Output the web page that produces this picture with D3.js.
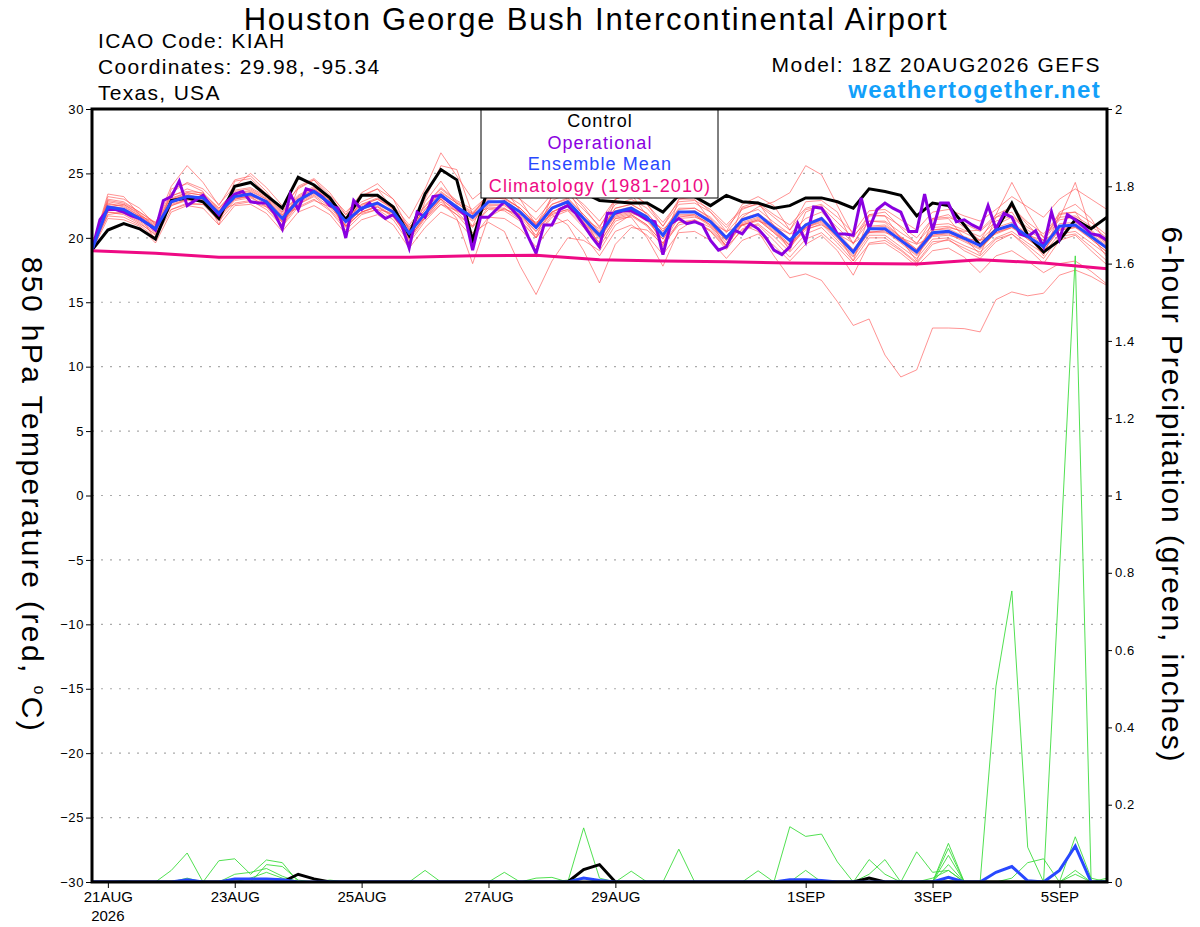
<!DOCTYPE html>
<html>
<head>
<meta charset="utf-8">
<script src="https://cdn.jsdelivr.net/npm/d3@7"></script>
<style>
  body { margin: 0; background: #fff; }
  svg { display: block; font-family: "Liberation Sans", Arial, Helvetica, sans-serif; }
</style>
</head>
<body>
<div id="chart"></div>
<script>
// forecast starts 18Z 20AUG2026, 6-hourly steps (operational is 3-hourly)
const startTime = Date.UTC(2026, 7, 20, 18);
const sixHours = 6 * 3600 * 1000;

const tempTicks = [30, 25, 20, 15, 10, 5, 0, -5, -10, -15, -20, -25, -30];
const precipTicks = [0, 0.2, 0.4, 0.6, 0.8, 1, 1.2, 1.4, 1.6, 1.8, 2];
const dateTickSteps = [1, 9, 17, 25, 33, 45, 53, 61];   // 00Z of 21,23,25,27,29AUG 1,3,5SEP

const controlTemp = [19.05,
  20.6, 21.1, 20.7, 19.9,  22.9, 23.1, 22.8, 21.5,  24.0, 24.3, 23.3, 22.3,  24.7, 24.1, 23.1, 21.4,
  23.3, 23.3, 22.4, 20.2,  23.4, 25.3, 24.5, 19.8,  24.0, 24.5, 23.8, 23.6,  24.2, 23.8, 23.5, 22.9,
  22.8, 22.7, 22.7, 22.0,  23.3, 23.2, 22.5, 23.3,  22.8, 22.7, 22.3, 22.5,  23.1, 23.1, 22.8, 22.3,
  23.8, 23.6, 23.3, 21.7,  22.7, 22.5, 21.0, 19.4,  20.6, 22.7, 20.2, 18.9,  19.8, 21.4, 20.7, 21.6];

const meanTemp = [19.05,
  22.4, 22.2, 21.5, 20.7,  22.8, 23.2, 23.1, 21.9,  23.2, 23.4, 22.8, 21.5,  22.9, 23.6, 22.7, 21.25,
  22.3, 22.7, 22.0, 20.35, 21.9, 23.3, 22.4, 21.6,  22.8, 22.8, 22.0, 20.8,  22.3, 22.8, 21.5, 20.2,
  22.0, 22.3, 21.6, 20.2,  22.0, 22.0, 21.25, 20.0, 21.4, 21.8, 20.8, 19.8,  21.0, 21.5, 20.2, 18.9,
  20.7, 20.7, 19.8, 18.9,  20.4, 20.5, 19.95, 19.4, 20.6, 21.0, 20.1, 19.3,  20.9, 21.0, 20.1, 19.2];

// operational run, 3-hourly
const operationalTemp = [19.05,
  21.4, 22.2, 22.2, 22.0, 21.7, 21.5, 21.1, 20.6,  22.9, 23.2, 24.4, 22.5, 22.9, 23.3, 22.5, 21.8,
  22.8, 23.4, 23.6, 22.8, 22.7, 22.7, 21.9, 20.7,  23.4, 22.2, 23.8, 23.6, 23.2, 22.5, 22.3, 20.0,
  22.9, 22.2, 22.7, 22.0, 21.5, 21.8, 21.1, 19.2,  22.0, 21.6, 23.2, 23.3, 22.8, 22.3, 21.8, 19.05,
  21.6, 21.6, 22.2, 22.8, 22.2, 21.5, 20.1, 18.8,  21.0, 21.0, 22.2, 22.5, 21.9, 21.0, 20.1, 19.3,
  21.9, 21.9, 22.1, 22.1, 21.8, 21.4, 21.25, 18.7, 21.1, 21.5, 21.1, 21.25, 21.0, 19.8, 19.05, 19.3,
  20.6, 20.3, 21.1, 20.7, 20.0, 19.05, 18.7, 19.3, 21.1, 19.7, 22.4, 22.3, 21.4, 20.3, 20.3, 20.2,
  23.1, 20.7, 22.2, 22.7, 22.3, 22.0, 20.5, 20.5, 23.4, 20.6, 22.7, 22.7, 21.25, 21.4, 21.0, 20.7,
  22.5, 20.7, 21.9, 21.6, 20.3, 20.1, 20.55, 19.3, 22.0, 19.9, 21.8, 21.4, 20.9, 20.3, 20.2, 19.8];

// climatology, one value per day (every 4th step)
const climoTemp = [19.0, 18.8, 18.5, 18.5, 18.5, 18.5, 18.6, 18.65, 18.3,
  18.2, 18.15, 18.05, 18.0, 17.97, 18.3, 18.05, 17.6];

const memberTemps = [
  [19.1, 23.2,23.0,22.3,21.0, 24.0,25.6,24.3,22.5, 24.5,24.8,23.6,22.0, 24.0,24.6,23.5,21.8,
   23.5,24.2,23.0,20.6, 23.0,25.6,25.3,21.8, 23.5,24.0,23.0,21.0, 23.2,23.8,22.4,20.8,
   23.0,23.5,22.6,20.9, 23.0,23.2,22.0,20.5, 22.6,23.2,22.5,20.6, 22.8,22.9,22.0,19.5,
   21.8,22.0,20.8,19.5, 21.5,21.8,20.8,19.8, 21.8,22.4,21.0,19.8, 22.0,22.6,21.5,19.5],
  [19.0, 21.5,21.4,20.9,19.6, 22.0,22.5,22.3,21.0, 22.5,22.6,21.9,20.5, 22.0,22.5,21.8,20.3,
   21.4,21.8,21.0,19.2, 20.8,22.0,21.4,20.0, 21.6,21.5,20.7,19.3, 21.0,21.4,20.2,18.6,
   20.5,21.0,20.2,18.7, 20.4,20.5,19.8,18.4, 19.8,20.3,19.4,18.2, 19.5,20.2,19.0,17.1,
   19.6,19.8,19.0,18.0, 19.5,19.9,19.0,18.4, 19.7,20.3,19.2,18.0, 19.8,20.2,19.0,17.9],
  [19.2, 22.6,22.5,21.7,20.8, 23.0,23.5,23.3,22.2, 23.4,23.6,23.0,21.8, 23.0,23.8,22.9,21.5,
   22.5,23.0,22.2,20.6, 22.2,23.6,22.7,21.8, 23.0,23.1,22.3,21.0, 22.6,23.0,21.8,20.4,
   22.3,22.6,21.9,20.5, 22.2,22.3,21.5,20.1, 21.0,20.5,18.6,16.9, 17.2,16.7,15.05,13.2,
   13.7,10.9,9.2,9.75, 13.0,13.0,12.95,12.7, 15.2,15.8,15.5,15.7, 17.1,17.5,17.0,16.3],
  [19.1, 22.0,21.9,21.2,20.2, 22.6,23.0,22.8,21.6, 23.0,23.2,22.4,21.0, 22.6,23.2,22.2,20.8,
   22.0,22.4,21.6,20.0, 21.6,23.0,22.0,20.8, 22.4,22.3,21.4,20.0, 21.8,22.2,21.0,19.6,
   21.5,21.8,21.0,19.6, 21.2,21.4,20.5,19.3, 20.6,21.0,19.8,18.5, 19.9,20.4,19.3,18.0,
   19.5,19.6,18.8,17.8, 19.0,19.2,18.5,17.3, 18.6,19.0,18.2,17.3, 18.0,18.2,17.4,16.4],
  [19.0, 22.3,22.0,21.3,20.4, 22.9,23.4,23.0,21.7, 23.2,23.5,22.7,21.3, 22.8,23.5,22.6,20.9,
   22.0,22.5,21.7,19.8, 21.5,22.8,21.8,20.4, 21.2,20.5,17.8,15.6, 18.2,20.0,19.8,19.0,
   21.0,21.8,21.0,19.6, 21.6,21.8,21.0,19.8, 21.2,21.6,20.6,19.5, 20.8,21.2,20.0,18.8,
   20.4,20.6,19.7,18.7, 20.2,20.4,19.8,19.2, 20.4,20.8,19.9,19.0, 20.6,20.8,19.9,18.9],
  [19.2, 22.8,22.6,21.8,21.0, 23.2,23.8,23.4,22.3, 23.6,23.8,23.1,21.9, 23.2,23.9,23.0,21.6,
   22.6,23.1,22.3,20.8, 22.4,23.8,22.8,22.0, 23.2,23.0,22.3,21.0, 21.8,21.0,19.0,16.5,
   19.5,20.8,20.6,19.5, 21.0,21.3,20.6,19.4, 21.0,21.4,20.4,19.2, 20.8,21.4,20.2,19.0,
   20.9,21.0,20.1,19.1, 20.8,20.9,20.4,19.8, 21.0,21.6,20.6,19.8, 21.4,21.6,20.6,19.6],
  [19.3, 23.0,22.8,22.0,21.2, 23.5,24.3,23.8,22.6, 24.0,25.0,23.9,22.5, 23.8,24.5,23.3,22.0,
   23.2,23.8,23.0,21.5, 23.8,26.6,24.8,23.0, 24.0,23.8,23.0,22.0, 23.4,23.6,22.6,21.3,
   23.0,23.4,22.6,21.2, 22.8,22.9,22.2,21.0, 22.3,22.6,21.6,20.6, 22.2,22.4,21.2,20.0,
   21.8,21.7,20.9,20.0, 21.5,21.6,21.1,20.5, 21.6,22.4,21.2,20.3, 21.8,22.0,21.2,20.2],
  [19.1, 22.2,22.1,21.4,20.6, 22.5,23.0,23.0,21.8, 23.0,23.3,22.6,21.3, 22.7,23.4,22.6,21.0,
   22.2,22.6,21.9,20.3, 21.8,23.2,22.3,21.4, 22.6,22.6,21.8,20.5, 22.0,22.6,21.3,20.0,
   21.8,22.1,21.4,19.9, 21.8,21.8,21.0,19.8, 21.6,22.4,22.8,23.5, 25.6,24.9,22.5,20.2,
   21.3,21.2,20.0,19.0, 20.6,20.8,20.5,20.6, 21.8,24.3,22.0,20.0, 21.5,24.3,20.5,19.5],
  [19.0, 22.7,22.4,21.7,20.9, 23.1,23.5,23.3,22.1, 23.4,23.7,23.0,21.7, 23.1,23.8,22.9,21.5,
   22.6,23.0,22.3,20.7, 22.2,23.5,22.7,21.9, 23.1,23.1,22.3,21.1, 22.6,23.1,21.8,20.5,
   22.3,22.6,21.9,20.5, 22.3,22.3,21.6,20.4, 21.8,22.2,21.2,20.3, 21.5,22.0,20.8,19.6,
   21.3,21.3,20.4,19.6, 21.0,21.1,20.6,20.1, 21.3,21.7,20.8,20.1, 21.6,21.7,20.9,20.0],
  [19.1, 22.0,21.8,21.1,20.3, 22.5,22.9,22.8,21.5, 22.9,23.1,22.5,21.2, 22.6,23.3,22.4,20.9,
   22.0,22.4,21.7,20.0, 21.6,23.0,22.1,21.3, 22.5,22.5,21.7,20.5, 22.0,22.5,21.2,19.9,
   21.7,22.0,21.3,19.9, 21.7,21.7,20.9,19.6, 21.0,21.4,20.4,19.4, 20.6,21.1,19.8,18.5,
   20.2,20.2,19.3,18.4, 19.9,20.0,19.4,18.9, 20.0,20.5,19.6,18.8, 20.3,20.5,19.6,18.7],
  [19.2, 23.4,23.2,21.8,19.8, 23.8,24.2,23.6,21.0, 24.4,24.6,23.4,20.6, 23.9,24.5,23.0,20.4,
   23.3,23.8,22.2,19.6, 22.8,24.4,22.6,20.9, 23.8,23.8,22.1,20.0, 23.3,23.8,21.6,19.4,
   23.0,23.4,21.7,19.4, 23.0,23.0,21.3,19.2, 22.4,22.8,20.9,19.0, 22.0,22.5,20.3,18.2,
   21.7,21.7,19.9,18.2, 21.4,21.5,20.0,18.7, 21.6,22.0,20.2,18.6, 21.9,22.0,20.2,18.5],
  [19.0, 21.8,22.0,21.7,21.2, 22.2,22.6,22.6,22.1, 22.6,22.8,22.4,21.8, 22.3,22.9,22.4,21.6,
   21.9,22.2,21.9,20.9, 21.5,22.6,22.1,21.9, 22.3,22.2,21.8,21.2, 21.9,22.2,21.5,20.7,
   21.6,21.9,21.5,20.7, 21.5,21.6,21.2,20.5, 21.0,21.3,20.9,20.3, 20.7,21.0,20.3,19.6,
   20.4,20.4,20.0,19.5, 20.1,20.2,19.9,19.8, 20.3,20.8,20.2,19.8, 20.6,20.8,20.3,19.8],
  [19.1, 22.5,22.3,21.6,20.5, 23.0,23.3,23.0,21.6, 23.3,23.5,22.7,21.2, 22.9,23.6,22.6,20.9,
   22.4,22.8,21.9,19.9, 21.8,23.0,21.5,18.0, 21.6,22.3,21.6,20.2, 22.0,22.6,21.2,19.6,
   21.5,21.6,20.0,17.8, 20.6,21.4,20.8,19.4, 21.1,21.5,20.5,19.4, 20.8,21.3,20.0,18.6,
   20.5,20.5,19.6,18.6, 20.2,20.3,19.7,19.1, 20.4,20.9,19.9,19.0, 20.7,20.9,19.9,18.9],
  [19.2, 22.9,22.7,22.0,21.1, 23.3,23.6,23.5,22.3, 23.7,23.9,23.2,22.0, 23.3,24.0,23.1,21.8,
   22.8,23.3,22.5,21.0, 22.5,23.9,22.9,22.2, 23.3,23.4,22.6,21.4, 22.9,23.4,22.2,20.9,
   22.6,23.0,22.3,20.9, 22.6,22.7,22.0,20.8, 22.2,22.7,21.8,21.0, 22.3,22.6,21.6,20.4,
   22.1,22.2,21.4,20.6, 22.0,22.2,21.7,21.3, 22.2,23.2,22.4,21.6, 23.0,23.8,23.0,22.2],
  [19.0, 22.4,22.6,21.9,20.8, 22.7,23.1,23.2,22.0, 23.1,23.2,22.9,21.6, 23.0,23.5,22.8,21.3,
   22.3,22.6,22.1,20.4, 21.9,23.1,22.4,21.5, 22.7,22.9,22.1,20.9, 22.4,22.9,21.6,20.3,
   22.1,22.4,21.7,20.3, 22.0,22.1,21.4,20.1, 21.5,21.9,21.0,19.9, 21.1,21.6,20.4,19.1,
   20.8,20.9,20.0,19.1, 20.6,20.7,20.1,19.6, 20.8,21.2,20.3,19.5, 21.1,21.2,20.3,19.4],
  [19.3, 21.7,21.6,21.0,20.0, 22.2,22.7,22.6,21.3, 22.7,22.9,22.2,20.9, 22.4,23.0,22.1,20.6,
   21.8,22.2,21.4,19.6, 21.3,22.6,21.8,20.9, 22.2,22.1,21.3,20.0, 21.6,22.1,20.8,19.3,
   21.3,21.7,20.9,19.3, 21.2,21.3,20.5,19.1, 20.7,21.1,20.1,18.9, 20.3,20.8,19.6,18.2,
   20.0,20.0,19.1,18.1, 19.7,19.8,19.2,18.6, 19.9,20.3,19.4,18.4, 20.1,20.3,19.3,18.2]
];

// 6-hour precipitation (inches)
const controlPrecip = [0,
  0,0,0,0, 0,0,0,0, 0,0,0,0, 0.02,0.008,0,0, 0,0,0,0, 0,0,0,0, 0,0,0,0, 0,0,0.032,0.045,
  0,0,0,0, 0,0,0,0, 0,0,0,0, 0,0,0,0, 0.01,0,0,0, 0,0,0,0, 0,0,0,0, 0,0,0,0];

const meanPrecip = [0,
  0,0,0,0, 0,0.006,0,0, 0.008,0.008,0.008,0.006, 0,0,0,0, 0,0,0,0, 0,0,0,0, 0,0,0,0, 0,0,0.01,0.004,
  0,0,0,0, 0,0,0,0, 0,0,0,0.006, 0.006,0.004,0,0, 0,0,0,0, 0,0.012,0,0, 0.025,0.04,0.003,0, 0.03,0.093,0,0];

const memberPrecips = [
  [0, 0,0,0,0, 0.03,0.075,0,0, 0,0,0,0, 0,0,0,0, 0,0,0,0, 0.03,0,0,0, 0,0,0,0, 0,0,0,0,
   0,0,0,0, 0.085,0,0,0, 0,0,0,0.143, 0.118,0.124,0.052,0, 0,0,0,0, 0,0.1,0,0, 0.507,0.753,0.09,0, 0,0,0,0],
  [0, 0,0,0,0, 0,0,0,0.055, 0.06,0.02,0.057,0.05, 0,0,0,0, 0,0,0,0, 0,0,0,0, 0,0,0,0, 0,0,0.14,0.01,
   0,0,0,0, 0,0,0,0, 0,0,0,0, 0,0,0,0, 0,0,0,0, 0,0.087,0,0, 0,0,0,0, 0.8,1.62,0,0],
  [0, 0,0,0,0, 0,0,0,0, 0.02,0.025,0.035,0.015, 0,0,0,0, 0,0,0,0, 0,0,0,0, 0,0.025,0,0, 0,0,0,0,
   0,0,0,0, 0,0,0,0, 0,0,0,0, 0.03,0,0,0, 0.058,0.02,0,0, 0,0.069,0,0, 0,0.01,0.05,0.06, 0,0,0,0],
  [0, 0,0,0,0, 0,0,0,0, 0,0,0.045,0.04, 0.005,0,0,0, 0,0,0,0, 0,0,0,0, 0,0,0,0.01, 0.012,0,0,0,
   0,0.028,0,0, 0,0,0,0, 0,0.029,0,0, 0,0,0,0, 0,0,0,0.078, 0.025,0.03,0,0, 0,0,0,0, 0,0.117,0.01,0],
  [0, 0,0,0,0, 0,0,0,0, 0,0.01,0.025,0.01, 0,0,0.005,0, 0,0,0,0, 0,0,0,0, 0,0,0,0, 0,0.005,0.01,0,
   0,0,0,0, 0,0,0,0, 0,0,0,0, 0,0,0,0, 0.02,0.058,0,0, 0,0.045,0,0, 0,0,0,0, 0,0.02,0,0.01],
  [0, 0,0.003,0,0, 0,0.01,0,0, 0,0,0,0, 0,0,0,0, 0,0,0,0, 0,0,0,0, 0,0,0,0, 0,0,0,0,
   0,0,0,0, 0,0,0,0, 0,0,0,0.005, 0,0,0,0, 0,0,0,0, 0.01,0.03,0,0, 0,0,0,0, 0,0.03,0,0.005]
];

const W = 1200, H = 927;
const plot = { left: 92, right: 1107, top: 109, bottom: 882 };

const svg = d3.select("#chart")
  .append("svg")
  .attr("width", W)
  .attr("height", H);

const stepDate = (i, per) => new Date(startTime + i * per);

const x = d3.scaleUtc()
  .domain([stepDate(0, sixHours), stepDate(64, sixHours)])
  .range([plot.left, plot.right]);
const yTemp = d3.scaleLinear().domain([-30, 30]).range([plot.bottom, plot.top]);
const yPrecip = d3.scaleLinear().domain([0, 2]).range([plot.bottom, plot.top]);

svg.append("clipPath").attr("id", "plot-clip")
  .append("rect")
  .attr("x", plot.left).attr("y", plot.top)
  .attr("width", plot.right - plot.left).attr("height", plot.bottom - plot.top);

// dotted grid lines
svg.append("g")
  .selectAll("line")
  .data(tempTicks.filter(d => d > -30 && d < 30))
  .enter()
  .append("line")
  .attr("x1", plot.left).attr("x2", plot.right)
  .attr("y1", d => yTemp(d)).attr("y2", d => yTemp(d))
  .attr("stroke", "#aaa")
  .attr("stroke-width", 1.2)
  .attr("stroke-dasharray", "2,7");

const g = svg.append("g").attr("clip-path", "url(#plot-clip)");

function lineFor(yScale, per) {
  return d3.line()
    .x((d, i) => x(stepDate(i, per)))
    .y(d => yScale(d));
}
const tempLine = lineFor(yTemp, sixHours);
const opLine = lineFor(yTemp, sixHours / 2);
const climoLine = lineFor(yTemp, sixHours * 4);
const precipLine = lineFor(yPrecip, sixHours);

// ensemble members
g.append("g")
  .selectAll("path")
  .data(memberTemps)
  .enter()
  .append("path")
  .attr("d", tempLine)
  .attr("fill", "none")
  .attr("stroke", "#ff4a4a")
  .attr("stroke-opacity", 0.75)
  .attr("stroke-width", 0.8);

g.append("g")
  .selectAll("path")
  .data(memberPrecips)
  .enter()
  .append("path")
  .attr("d", precipLine)
  .attr("fill", "none")
  .attr("stroke", "#3ddc3d")
  .attr("stroke-width", 0.9);

function thick(data, gen, color, width) {
  g.append("path")
    .datum(data)
    .attr("d", gen)
    .attr("fill", "none")
    .attr("stroke", color)
    .attr("stroke-width", width)
    .attr("stroke-linejoin", "miter");
}
thick(controlTemp, tempLine, "#000", 3);
thick(operationalTemp, opLine, "#8a00e0", 3);
thick(meanTemp, tempLine, "#2848ff", 3);
thick(climoTemp, climoLine, "#ee0a84", 3);
thick(controlPrecip, precipLine, "#000", 3);
thick(meanPrecip, precipLine, "#2848ff", 3);

// legend box
const legend = svg.append("g");
legend.append("rect")
  .attr("x", 481).attr("y", plot.top)
  .attr("width", 237).attr("height", 89)
  .attr("fill", "#fff").attr("stroke", "#000").attr("stroke-width", 1);
const legendItems = [
  ["Control", "#000"],
  ["Operational", "#8a00e0"],
  ["Ensemble Mean", "#2848ff"],
  ["Climatology (1981-2010)", "#ee0a84"]
];
legend.selectAll("text")
  .data(legendItems)
  .enter()
  .append("text")
  .attr("x", 600)
  .attr("y", (d, i) => 127 + i * 21.7)
  .attr("text-anchor", "middle")
  .attr("font-size", 18)
  .attr("letter-spacing", 1.1)
  .attr("fill", d => d[1])
  .text(d => d[0]);

// axes
const leftAxis = svg.append("g")
  .attr("transform", `translate(${plot.left},0)`)
  .call(d3.axisLeft(yTemp).tickValues(tempTicks).tickSize(6).tickPadding(2).tickFormat(d3.format("d")));
const rightAxis = svg.append("g")
  .attr("transform", `translate(${plot.right},0)`)
  .call(d3.axisRight(yPrecip).tickValues(precipTicks).tickSize(5).tickPadding(3)
    .tickFormat(d => d3.format("~g")(+d.toFixed(1))));
const bottomAxis = svg.append("g")
  .attr("transform", `translate(0,${plot.bottom})`)
  .call(d3.axisBottom(x)
    .tickValues(dateTickSteps.map(i => stepDate(i, sixHours)))
    .tickSize(6).tickPadding(3)
    .tickFormat(d => d3.utcFormat("%-d%b")(d).toUpperCase()));

[leftAxis, rightAxis, bottomAxis].forEach(a => {
  a.select(".domain").remove();
  a.selectAll("text").attr("font-family", "Liberation Sans, Arial, sans-serif").attr("fill", "#000");
  a.selectAll("line").attr("stroke", "#000");
});
leftAxis.selectAll("text").attr("font-size", 13).attr("letter-spacing", 0.6);
rightAxis.selectAll("text").attr("font-size", 13).attr("letter-spacing", 0.6);
bottomAxis.selectAll("text").attr("font-size", 15);

svg.append("text")
  .attr("x", x(stepDate(1, sixHours)))
  .attr("y", 921)
  .attr("text-anchor", "middle")
  .attr("font-size", 15)
  .text("2026");

// frame
svg.append("rect")
  .attr("x", plot.left).attr("y", plot.top)
  .attr("width", plot.right - plot.left).attr("height", plot.bottom - plot.top)
  .attr("fill", "none").attr("stroke", "#000").attr("stroke-width", 3);

// titles
svg.append("text")
  .attr("x", 596).attr("y", 30)
  .attr("text-anchor", "middle")
  .attr("font-size", 31)
  .attr("letter-spacing", 1.8)
  .text("Houston George Bush Intercontinental Airport");

const infoLines = ["ICAO Code: KIAH", "Coordinates: 29.98, -95.34", "Texas, USA"];
svg.selectAll(".info")
  .data(infoLines)
  .enter()
  .append("text")
  .attr("class", "info")
  .attr("x", 98)
  .attr("y", (d, i) => 48 + i * 26)
  .attr("font-size", 21)
  .attr("letter-spacing", 1.3)
  .text(d => d);

svg.append("text")
  .attr("x", 1101).attr("y", 72)
  .attr("text-anchor", "end")
  .attr("font-size", 21)
  .attr("letter-spacing", 1.6)
  .text("Model: 18Z 20AUG2026 GEFS");
svg.append("text")
  .attr("x", 1101).attr("y", 98)
  .attr("text-anchor", "end")
  .attr("font-size", 24)
  .attr("letter-spacing", 1.3)
  .attr("font-weight", "bold")
  .attr("fill", "#12a0fa")
  .text("weathertogether.net");

const leftTitle = svg.append("text")
  .attr("transform", "translate(22,495) rotate(90)")
  .attr("text-anchor", "middle")
  .attr("font-size", 30)
  .attr("letter-spacing", 2.4);
leftTitle.append("tspan").text("850 hPa Temperature (red, ");
leftTitle.append("tspan").attr("font-size", 16).attr("dy", -12).text("o");
leftTitle.append("tspan").attr("dy", 12).text("C)");

svg.append("text")
  .attr("transform", "translate(1162,495) rotate(90)")
  .attr("text-anchor", "middle")
  .attr("font-size", 30)
  .attr("letter-spacing", 1.9)
  .text("6-hour Precipitation (green, inches)");
</script>
</body>
</html>
